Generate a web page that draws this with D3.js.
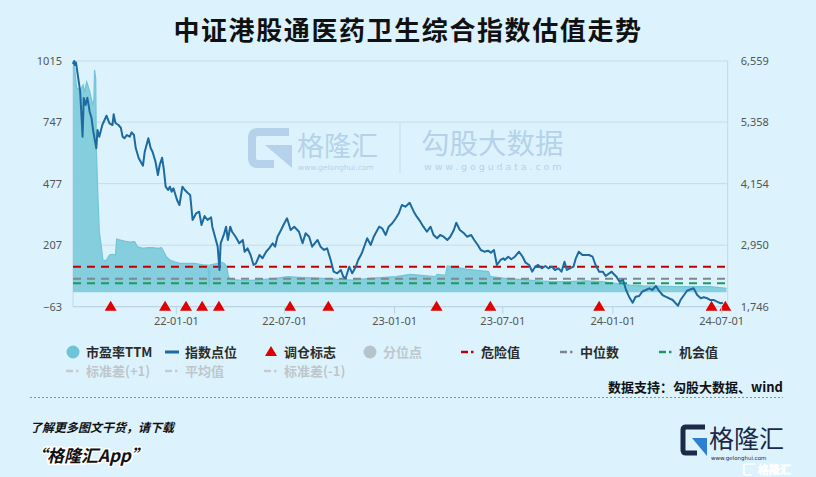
<!DOCTYPE html>
<html><head><meta charset="utf-8">
<script src="https://cdn.jsdelivr.net/npm/d3@7"></script>
<style>
html,body{margin:0;padding:0;background:#dcf3fd;}
svg{display:block;font-family:"Noto Sans CJK SC","Noto Sans",sans-serif;}
</style></head>
<body>
<svg id="c" width="816" height="477"></svg>
<script>
// ---------------- data ----------------
const title = "中证港股通医药卫生综合指数估值走势";
const leftTicks = [-63, 207, 477, 747, 1015];
const rightTicks = [1746, 2950, 4154, 5358, 6559];
const xTickDates = ["2022-01-01","2022-07-01","2023-01-01","2023-07-01","2024-01-01","2024-07-01"];
const dateDomain = ["2021-07-13","2024-07-12"];

// 指数点位 (right axis)
const indexSeries = [
["2021-07-13",6500],["2021-07-15",6559],["2021-07-16",6480],["2021-07-18",6530],["2021-07-21",6285],["2021-07-25",5958],
["2021-07-29",5076],["2021-07-31",5834],["2021-08-03",5697],["2021-08-06",5840],["2021-08-10",5560],["2021-08-13",5442],
["2021-08-16",5174],["2021-08-21",4849],["2021-08-23",5207],["2021-08-26",5076],["2021-08-31",5305],["2021-09-07",5487],
["2021-09-12",5339],["2021-09-17",5305],["2021-09-19",5515],["2021-09-22",5344],["2021-09-27",5305],["2021-10-01",5252],
["2021-10-04",5076],["2021-10-07",5045],["2021-10-11",5109],["2021-10-16",5076],["2021-10-19",5162],["2021-10-23",5109],
["2021-10-26",4849],["2021-10-31",4653],["2021-11-07",4508],["2021-11-10",4782],["2021-11-16",5045],["2021-11-20",4849],
["2021-11-23",4782],["2021-11-28",4586],["2021-12-02",4326],["2021-12-05",4522],["2021-12-09",4665],["2021-12-12",4424],
["2021-12-15",4097],["2021-12-19",4032],["2021-12-22",4097],["2021-12-25",3999],["2021-12-28",4065],["2022-01-03",3836],
["2022-01-07",3738],["2022-01-12",4097],["2022-01-16",4032],["2022-01-21",3973],["2022-01-25",3934],["2022-01-29",3444],
["2022-02-04",3576],["2022-02-09",3607],["2022-02-13",3346],["2022-02-18",3523],["2022-02-23",3444],["2022-03-01",3497],
["2022-03-03",3313],["2022-03-09",3053],["2022-03-12",2921],["2022-03-15",2465],["2022-03-17",2988],["2022-03-23",3184],
["2022-03-26",3313],["2022-03-29",3053],["2022-04-02",3313],["2022-04-05",3215],["2022-04-11",3117],["2022-04-17",2988],
["2022-04-23",3053],["2022-04-26",2823],["2022-05-01",2890],["2022-05-06",2759],["2022-05-11",2563],["2022-05-15",2596],
["2022-05-21",2759],["2022-05-26",2694],["2022-06-01",2823],["2022-06-06",2890],["2022-06-12",2988],["2022-06-16",2921],
["2022-06-20",3117],["2022-06-26",3248],["2022-06-30",3346],["2022-07-06",3478],["2022-07-12",3248],["2022-07-18",3313],
["2022-07-26",3215],["2022-08-01",2988],["2022-08-06",3184],["2022-08-12",3117],["2022-08-17",2921],["2022-08-26",3053],
["2022-08-31",2921],["2022-09-06",2857],["2022-09-11",2890],["2022-09-17",2661],["2022-09-22",2432],["2022-09-28",2400],
["2022-10-04",2465],["2022-10-08",2334],["2022-10-12",2302],["2022-10-18",2530],["2022-10-23",2400],["2022-10-29",2530],
["2022-11-02",2661],["2022-11-08",2792],["2022-11-13",2955],["2022-11-17",3086],["2022-11-23",2955],["2022-11-28",3117],
["2022-12-07",3313],["2022-12-12",3282],["2022-12-18",3151],["2022-12-23",3313],["2022-12-29",3380],["2023-01-04",3478],
["2023-01-09",3576],["2023-01-14",3738],["2023-01-20",3705],["2023-01-27",3783],["2023-02-03",3607],["2023-02-08",3509],
["2023-02-14",3411],["2023-02-19",3313],["2023-02-25",3215],["2023-03-03",3313],["2023-03-08",3151],["2023-03-14",3086],
["2023-03-19",3151],["2023-03-25",3117],["2023-03-31",3053],["2023-04-05",3117],["2023-04-11",3248],["2023-04-15",3391],
["2023-04-21",3248],["2023-04-28",3184],["2023-05-03",3117],["2023-05-10",3151],["2023-05-15",3053],["2023-05-21",2955],
["2023-05-26",2857],["2023-06-01",2823],["2023-06-07",2843],["2023-06-12",2804],["2023-06-17",2857],["2023-06-22",2563],
["2023-06-28",2661],["2023-07-03",2694],["2023-07-05",2661],["2023-07-11",2725],["2023-07-16",2675],["2023-07-22",2725],
["2023-07-29",2823],["2023-08-04",2725],["2023-08-09",2608],["2023-08-15",2563],["2023-08-20",2432],["2023-08-25",2530],
["2023-08-30",2563],["2023-09-05",2498],["2023-09-11",2543],["2023-09-16",2498],["2023-09-22",2530],["2023-09-27",2465],
["2023-10-03",2498],["2023-10-08",2432],["2023-10-13",2628],["2023-10-17",2465],["2023-10-22",2498],["2023-10-28",2530],
["2023-11-01",2694],["2023-11-06",2823],["2023-11-12",2759],["2023-11-18",2759],["2023-11-23",2759],["2023-11-29",2725],
["2023-12-04",2563],["2023-12-10",2432],["2023-12-16",2432],["2023-12-21",2347],["2023-12-27",2400],["2023-12-31",2432],
["2024-01-02",2400],["2024-01-08",2334],["2024-01-13",2236],["2024-01-19",2269],["2024-01-24",2073],["2024-01-29",1942],
["2024-02-04",1824],["2024-02-09",1942],["2024-02-15",1956],["2024-02-20",2040],["2024-02-26",2073],["2024-03-03",2106],
["2024-03-08",2073],["2024-03-14",2151],["2024-03-19",2059],["2024-03-25",1975],["2024-03-30",1942],["2024-04-05",1911],
["2024-04-11",1877],["2024-04-16",1813],["2024-04-20",1765],["2024-04-24",1877],["2024-04-30",1975],["2024-05-05",2059],
["2024-05-11",2087],["2024-05-16",2106],["2024-05-22",1975],["2024-05-28",1911],["2024-06-02",1930],["2024-06-08",1911],
["2024-06-13",1877],["2024-06-19",1877],["2024-06-24",1844],["2024-06-30",1813],["2024-07-04",1824]
];

// 市盈率TTM (left axis)
const peSeries = [
["2021-07-13",1015],["2021-07-16",976],["2021-07-19",897],["2021-07-25",888],["2021-07-30",910],["2021-08-01",879],
["2021-08-05",924],["2021-08-10",880],["2021-08-15",822],["2021-08-17",844],["2021-08-18",976],["2021-08-20",940],
["2021-08-21",633],["2021-08-24",398],["2021-08-26",266],["2021-08-29",208],["2021-09-01",142],["2021-09-06",138],
["2021-09-12",164],["2021-09-17",167],["2021-09-22",164],["2021-09-24",234],["2021-09-29",230],["2021-10-07",225],
["2021-10-16",220],["2021-10-24",222],["2021-10-29",200],["2021-11-07",193],["2021-11-15",196],["2021-11-23",196],
["2021-12-02",193],["2021-12-08",196],["2021-12-12",178],["2021-12-16",156],["2021-12-22",142],["2021-12-30",134],
["2022-01-07",127],["2022-02-01",127],["2022-02-18",120],["2022-02-24",120],["2022-02-26",25],["2022-02-27",120],
["2022-03-12",127],["2022-03-17",134],["2022-03-23",127],["2022-03-27",113],["2022-03-30",69],["2022-04-03",57],
["2022-04-26",51],["2022-05-12",54],["2022-05-29",57],["2022-06-20",62],["2022-07-07",69],["2022-07-26",66],
["2022-08-28",62],["2022-10-01",57],["2022-10-23",54],["2022-11-26",62],["2023-01-04",69],["2023-01-28",79],
["2023-02-25",72],["2023-03-11",69],["2023-03-14",79],["2023-03-25",76],["2023-03-28",76],["2023-03-31",116],
["2023-04-16",110],["2023-05-03",101],["2023-05-25",95],["2023-06-08",91],["2023-06-11",69],["2023-07-03",62],
["2023-07-28",57],["2023-08-25",51],["2023-09-22",47],["2023-10-20",47],["2023-11-16",50],["2023-12-14",47],
["2023-12-31",42],["2024-01-30",32],["2024-02-21",28],["2024-04-17",25],["2024-06-12",25],["2024-07-10",18]
];

// 调仓标志
const signalDates = ["2021-09-14","2021-12-14","2022-01-18","2022-02-14","2022-03-14","2022-07-11",
  "2022-09-13","2023-03-13","2023-06-11","2023-12-10","2024-06-15","2024-07-08"];

// reference levels (PE)
const dangerValue = 112;
const medianValue = 60;
const chanceValue = 40;

const legendRow1 = [
  {name:"市盈率TTM", type:"circle", color:"#6cc5d8", on:true},
  {name:"指数点位", type:"line", color:"#1d6aa0", on:true},
  {name:"调仓标志", type:"tri", color:"#e00000", on:true},
  {name:"分位点", type:"circle", color:"#b7c3cb", on:false},
  {name:"危险值", type:"dash", color:"#c00000", on:true},
  {name:"中位数", type:"dash", color:"#7f878e", on:true},
  {name:"机会值", type:"dash", color:"#1a9a5e", on:true}
];
const legendRow2 = [
  {name:"标准差(+1)", type:"dash", color:"#c5ccd0", on:false},
  {name:"平均值", type:"dash", color:"#c5ccd0", on:false},
  {name:"标准差(-1)", type:"dash", color:"#c5ccd0", on:false}
];

// ---------------- drawing ----------------
const svg = d3.select("#c");
const parse = d3.utcParse("%Y-%m-%d");
const L = 73, R = 727.7, T = 61, B = 306.7;

const x = d3.scaleUtc().domain(dateDomain.map(parse)).range([L, R]);
const yL = d3.scaleLinear().domain([-63, 1015]).range([B, T]);
const yR = d3.scaleLinear().domain([1746, 6559]).range([B, T]);

svg.append("rect").attr("width",816).attr("height",477).attr("fill","#dcf3fd");

// title
svg.append("text").attr("x",408).attr("y",40).attr("text-anchor","middle")
  .attr("font-size",26).attr("font-weight",700).attr("fill","#111")
  .attr("letter-spacing",1.6).text(title);

// gridlines
svg.append("g").selectAll("line").data(leftTicks).join("line")
  .attr("x1",L).attr("x2",R).attr("y1",d=>yL(d)).attr("y2",d=>yL(d))
  .attr("stroke","#c6dce8").attr("stroke-width",1);
svg.append("line").attr("x1",L).attr("x2",L).attr("y1",T).attr("y2",B).attr("stroke","#c0d8e6");
svg.append("line").attr("x1",R).attr("x2",R).attr("y1",T).attr("y2",B).attr("stroke","#c0d8e6");

// watermark
const wm = svg.append("g").attr("fill","#b5d2ea");
wm.append("path").attr("fill","none").attr("stroke","#b5d2ea").attr("stroke-width",8)
  .attr("d","M289,132 L258,132 Q252,132 252,138 L252,158 Q252,164 258,164 L274,164");
wm.append("path").attr("d","M265,145 L292,145 L292,168 Z");
wm.append("text").attr("x",297).attr("y",156).attr("font-size",27).text("格隆汇");
wm.append("text").attr("x",298).attr("y",170).attr("font-size",7.5).attr("font-family","DejaVu Sans").text("www.gelonghui.com");
wm.append("line").attr("x1",400).attr("x2",400).attr("y1",123).attr("y2",173).attr("stroke","#c2dbee").attr("stroke-width",1);
wm.append("text").attr("x",421).attr("y",154).attr("font-size",28.5).text("勾股大数据");
wm.append("text").attr("x",424).attr("y",170).attr("font-size",9.5).attr("letter-spacing",2.9).attr("font-family","DejaVu Sans").text("www.gogudata.com");

// PE area
const pe = peSeries.map(d=>({date:parse(d[0]), v:d[1]}));
svg.append("path").datum(pe)
  .attr("d", d3.area().x(d=>x(d.date)).y0(yL(0)).y1(d=>yL(d.v)))
  .attr("fill","#7fcbdb").attr("fill-opacity",0.95);
svg.append("path").datum(pe)
  .attr("d", d3.line().x(d=>x(d.date)).y(d=>yL(d.v)))
  .attr("fill","none").attr("stroke","#72c4d6").attr("stroke-width",1.2);

// reference dashed lines
[[dangerValue,"#c00000"],[medianValue,"#7f878e"],[chanceValue,"#1a9a5e"]].forEach(([v,c])=>{
  svg.append("line").attr("x1",L).attr("x2",R).attr("y1",yL(v)).attr("y2",yL(v))
    .attr("stroke",c).attr("stroke-width",2).attr("stroke-dasharray","8,6");
});

svg.append("line").attr("x1",L).attr("x2",R).attr("y1",B).attr("y2",B).attr("stroke","#b9d4e4");

// index line
const idx = indexSeries.map(d=>({date:parse(d[0]), v:d[1]}));
svg.append("path").datum(idx)
  .attr("d", d3.line().x(d=>x(d.date)).y(d=>yR(d.v)))
  .attr("fill","none").attr("stroke","#1d6aa0").attr("stroke-width",2).attr("stroke-linejoin","round");

// signals
svg.append("g").selectAll("path").data(signalDates.map(parse)).join("path")
  .attr("transform",d=>`translate(${x(d)},${yL(-63)})`)
  .attr("d","M0,-6 L6,4 L-6,4 Z").attr("fill","#e00000");

// axes
const axL = svg.append("g").attr("transform",`translate(${L},0)`)
  .call(d3.axisLeft(yL).tickValues(leftTicks).tickSize(0).tickPadding(11).tickFormat(d3.format("d")));
const axR = svg.append("g").attr("transform",`translate(${R},0)`)
  .call(d3.axisRight(yR).tickValues(rightTicks).tickSize(0).tickPadding(13).tickFormat(d3.format(",")));
const axB = svg.append("g").attr("transform",`translate(0,${B})`)
  .call(d3.axisBottom(x).tickValues(xTickDates.map(parse)).tickSize(7).tickPadding(4).tickFormat(d3.utcFormat("%y-%m-%d")));
[axL,axR,axB].forEach(a=>{
  a.select(".domain").remove();
  a.selectAll("text").attr("font-size",11).attr("fill","#555").attr("font-family","'Noto Sans',sans-serif");
  a.selectAll("line").attr("stroke","#b9d4e4");
});

// legend
function legendItem(g, it, x0, y0){
  const c = it.color;
  if(it.type==="circle") g.append("circle").attr("cx",x0+7).attr("cy",y0).attr("r",6.5).attr("fill",c);
  if(it.type==="line") g.append("line").attr("x1",x0).attr("x2",x0+14).attr("y1",y0).attr("y2",y0).attr("stroke",c).attr("stroke-width",3);
  if(it.type==="tri") g.append("path").attr("d",`M${x0+7},${y0-6} L${x0+13},${y0+4} L${x0+1},${y0+4} Z`).attr("fill",c);
  if(it.type==="dash"){
    g.append("line").attr("x1",x0).attr("x2",x0+7).attr("y1",y0).attr("y2",y0).attr("stroke",c).attr("stroke-width",2.5);
    g.append("line").attr("x1",x0+10).attr("x2",x0+12.5).attr("y1",y0).attr("y2",y0).attr("stroke",c).attr("stroke-width",2.5);
  }
  g.append("text").attr("x",x0+20).attr("y",y0+5).attr("font-size",13).attr("font-weight",700)
    .attr("fill",it.on?"#2b2b2b":"#bfc6cb").text(it.name);
}
const lg = svg.append("g");
const row1X = [66, 165, 264, 363, 461, 560, 659];
legendRow1.forEach((it,i)=>legendItem(lg,it,row1X[i],352));
const row2X = [66, 165, 264];
legendRow2.forEach((it,i)=>legendItem(lg,it,row2X[i],371));

// source
svg.append("text").attr("x",783).attr("y",392).attr("text-anchor","end").attr("font-size",13)
  .attr("font-weight",700).attr("fill","#111").text("数据支持：勾股大数据、wind");
svg.append("line").attr("x1",30).attr("x2",783).attr("y1",397.5).attr("y2",397.5)
  .attr("stroke","#8a8f93").attr("stroke-width",1).attr("stroke-dasharray","2,2");

// footer
svg.append("text").attr("x",30).attr("y",432).attr("font-size",12).attr("font-weight",700)
  .attr("font-style","italic").attr("fill","#111").text("了解更多图文干货，请下载");
svg.append("text").attr("x",30).attr("y",462).attr("font-size",17).attr("font-weight",700)
  .attr("font-style","italic").attr("fill","#111").attr("stroke","#fff").attr("stroke-width",3)
  .attr("paint-order","stroke").text("“格隆汇App”");

// logo bottom right
const lgo = svg.append("g");
lgo.append("path").attr("fill","none").attr("stroke","#1b2a48").attr("stroke-width",5)
  .attr("d","M705,427 L686,427 Q683,427 683,430 L683,450 Q683,453 686,453 L697,453");
lgo.append("path").attr("d","M692,438 L707,438 L707,456 Z").attr("fill","#2f7fd0");
lgo.append("text").attr("x",709).attr("y",448).attr("font-size",25).attr("fill","#1b2a48").text("格隆汇");
lgo.append("text").attr("x",711).attr("y",460).attr("font-size",5.5).attr("fill","#1b2a48").attr("font-family","DejaVu Sans").text("www.gelonghui.com");
const wm2 = svg.append("g");
wm2.append("path").attr("fill","none").attr("stroke","#fff").attr("stroke-width",1.6)
  .attr("d","M755,464 L746,464 Q744,464 744,466 L744,473 Q744,475 746,475 L752,475");
wm2.append("text").attr("x",758).attr("y",474).attr("font-size",11).attr("fill","none")
  .attr("stroke","#fff").attr("stroke-width",0.8).text("格隆汇");
</script>
</body></html>
